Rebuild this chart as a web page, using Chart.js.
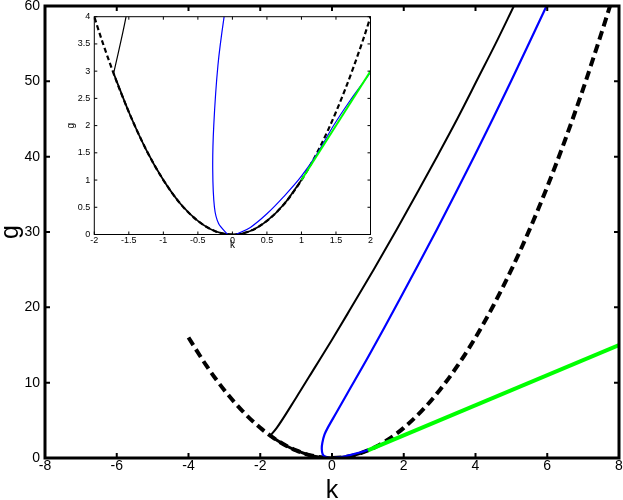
<!DOCTYPE html>
<html>
<head>
<meta charset="utf-8">
<script src="https://cdn.jsdelivr.net/npm/chart.js@4.4.1/dist/chart.umd.min.js"></script>
<style>
	body { margin: 0; background: #fff; }
	#wrap { position: relative; width: 623px; height: 500px; }
	#main { position: absolute; left: 0; top: 0; }
	#inset { position: absolute; left: 55px; top: 8px; }
</style>
</head>
<body>
<div id="wrap">
	<canvas id="main" width="623" height="500"></canvas>
	<canvas id="inset" width="325" height="254"></canvas>
</div>
<script>
// g = k^2, the dashed curve
const parabolaK = [-4, -3.5, -3, -2.5, -2, -1.75, -1.5, -1.25, -1, -0.75, -0.5, -0.25, 0, 0.25, 0.5, 0.75, 1, 1.25, 1.5, 1.75, 2, 2.5, 3, 3.5, 4, 4.5, 5, 5.5, 6, 6.5, 7, 7.5, 7.75];
const parabolaG = [16, 12.25, 9, 6.25, 4, 3.06, 2.25, 1.56, 1, 0.56, 0.25, 0.06, 0, 0.06, 0.25, 0.56, 1, 1.56, 2.25, 3.06, 4, 6.25, 9, 12.25, 16, 20.25, 25, 30.25, 36, 42.25, 49, 56.25, 60];

// solid stretch of the same curve, between the black branch and the tangent
const lowerK = [-1.72, -1.5, -1.25, -1, -0.75, -0.5, -0.25, 0, 0.25, 0.5, 0.75, 1];
const lowerG = [2.96, 2.25, 1.56, 1, 0.56, 0.25, 0.06, 0, 0.06, 0.25, 0.56, 1];

// black branch leaving the curve at k = -1.72
const blackK = [-1.72, -1.54, -1.0, -0.48, 0.0, 0.49, 1.16, 1.8, 2.41, 2.95, 3.49, 4.09, 4.56, 5.07];
const blackG = [2.96, 4.0, 8.0, 12.0, 15.7, 19.6, 25.0, 30.3, 35.5, 40.2, 45.0, 50.6, 55.0, 60];

// blue curve, steep branch
const blueLeftK = [-0.07, -0.2, -0.26, -0.285, -0.27, -0.21, -0.12, 0.12, 0.43, 1.03, 1.88, 2.92, 3.98, 5.0, 5.98];
const blueLeftG = [0, 0.2, 0.5, 1.2, 2.0, 3.1, 4.0, 6.0, 8.6, 13.6, 21.0, 30.3, 40.2, 50.1, 60];

// blue curve, branch that runs into the green line
const blueRightK = [0.05, 0.26, 0.5, 0.74, 1.0, 1.23, 1.47, 1.71, 2.0, 2.5];
const blueRightG = [0, 0.13, 0.38, 0.69, 1.07, 1.49, 2.01, 2.47, 2.98, 3.98];

// green tangent line
const greenK = [1, 8];
const greenG = [1, 15];

const mainTicksX = { min: -8, max: 8, step: 2 };
const mainTicksY = { min: 0, max: 60, step: 10 };
const insetTicksX = { min: -2, max: 2, step: 0.5 };
const insetTicksY = { min: 0, max: 4, step: 0.5 };

function pts(xs, ys) {
	return xs.map((x, i) => ({ x: x, y: ys[i] }));
}

// box round the plot, ticks pointing inwards on all four sides
const frame = {
	id: 'frame',
	afterDatasetsDraw(chart, args, opts) {
		const { ctx, chartArea: a, scales: { x, y } } = chart;
		ctx.save();
		ctx.strokeStyle = '#000';
		ctx.lineWidth = opts.tickWidth;
		ctx.beginPath();
		x.ticks.forEach((t) => {
			const px = x.getPixelForValue(t.value);
			ctx.moveTo(px, a.bottom);
			ctx.lineTo(px, a.bottom - opts.len);
			ctx.moveTo(px, a.top);
			ctx.lineTo(px, a.top + opts.len);
		});
		y.ticks.forEach((t) => {
			const py = y.getPixelForValue(t.value);
			ctx.moveTo(a.left, py);
			ctx.lineTo(a.left + opts.len, py);
			ctx.moveTo(a.right, py);
			ctx.lineTo(a.right - opts.len, py);
		});
		ctx.stroke();
		ctx.lineWidth = opts.boxWidth;
		ctx.strokeRect(a.left, a.top, a.right - a.left, a.bottom - a.top);
		ctx.restore();
	}
};

function makeDatasets(w) {
	const line = { showLine: true, pointRadius: 0, pointHoverRadius: 0, tension: 0.3, fill: false };
	return [
		Object.assign({}, line, { data: pts(greenK, greenG), borderColor: '#00ff00', borderWidth: w.green, tension: 0 }),
		Object.assign({}, line, { data: pts(blueRightK, blueRightG), borderColor: '#0000ff', borderWidth: w.blue, cubicInterpolationMode: 'monotone' }),
		Object.assign({}, line, { data: pts(blueLeftK, blueLeftG), borderColor: '#0000ff', borderWidth: w.blue }),
		Object.assign({}, line, { data: pts(blackK, blackG), borderColor: '#000000', borderWidth: w.black, cubicInterpolationMode: 'monotone' }),
		Object.assign({}, line, { data: pts(lowerK, lowerG), borderColor: '#000000', borderWidth: w.lower, cubicInterpolationMode: 'monotone' }),
		Object.assign({}, line, { data: pts(parabolaK, parabolaG), borderColor: '#000000', borderWidth: w.dashed, borderDash: w.dash, cubicInterpolationMode: 'monotone' })
	];
}

function axis(t, fontSize, pad, fit) {
	return {
		type: 'linear',
		min: t.min,
		max: t.max,
		grid: { display: false, drawTicks: false },
		border: { display: false },
		ticks: {
			stepSize: t.step,
			autoSkip: false,
			maxRotation: 0,
			padding: pad,
			color: '#000',
			font: { family: 'Liberation Sans', size: fontSize },
			callback: (v) => String(Math.round(v * 100) / 100)
		},
		afterFit: fit
	};
}

Chart.defaults.animation = false;

const mainX = axis(mainTicksX, 14, 0, (s) => { s.height = 42; s.paddingLeft = 0; s.paddingRight = 0; });
mainX.title = { display: true, text: 'k', color: '#000', font: { family: 'Liberation Sans', size: 25, lineHeight: 1 }, padding: { top: 0, bottom: -3.7 } };
const mainY = axis(mainTicksY, 14, 5, (s) => { s.width = 45; s.paddingTop = 0; s.paddingBottom = 0; });
mainY.title = { display: true, text: 'g', color: '#000', font: { family: 'Liberation Sans', size: 25, lineHeight: 1 }, padding: { top: -1.5, bottom: 0 } };

new Chart(document.getElementById('main'), {
	type: 'scatter',
	data: { datasets: makeDatasets({ green: 4, blue: 2.2, black: 2, lower: 3, dashed: 4, dash: [9, 5] }) },
	options: {
		responsive: false,
		devicePixelRatio: 1,
		layout: { padding: { left: 0, right: 4, top: 6, bottom: 0 } },
		plugins: {
			legend: { display: false },
			tooltip: { enabled: false },
			frame: { len: 5, tickWidth: 2, boxWidth: 3 }
		},
		scales: { x: mainX, y: mainY }
	},
	plugins: [frame]
});

const insetX = axis(insetTicksX, 9, 1, (s) => { s.height = 27.5; s.paddingLeft = 0; s.paddingRight = 0; });
insetX.title = { display: true, text: 'k', color: '#000', font: { family: 'Liberation Sans', size: 10, lineHeight: 1 }, padding: { top: 0, bottom: 12 } };
const insetY = axis(insetTicksY, 9, 4, (s) => { s.width = 39.3; s.paddingTop = 0; s.paddingBottom = 0; });
insetY.title = { display: true, text: 'g', color: '#000', font: { family: 'Liberation Sans', size: 10, lineHeight: 1 }, padding: { top: 11, bottom: 0 } };

new Chart(document.getElementById('inset'), {
	type: 'scatter',
	data: { datasets: makeDatasets({ green: 2, blue: 1.2, black: 1.2, lower: 1.8, dashed: 2.2, dash: [5, 3] }) },
	options: {
		responsive: false,
		devicePixelRatio: 1,
		layout: { padding: { left: 0, right: 9.5, top: 8.7, bottom: 0 } },
		plugins: {
			legend: { display: false },
			tooltip: { enabled: false },
			frame: { len: 3, tickWidth: 1, boxWidth: 1 }
		},
		scales: { x: insetX, y: insetY }
	},
	plugins: [frame]
});
</script>
</body>
</html>
